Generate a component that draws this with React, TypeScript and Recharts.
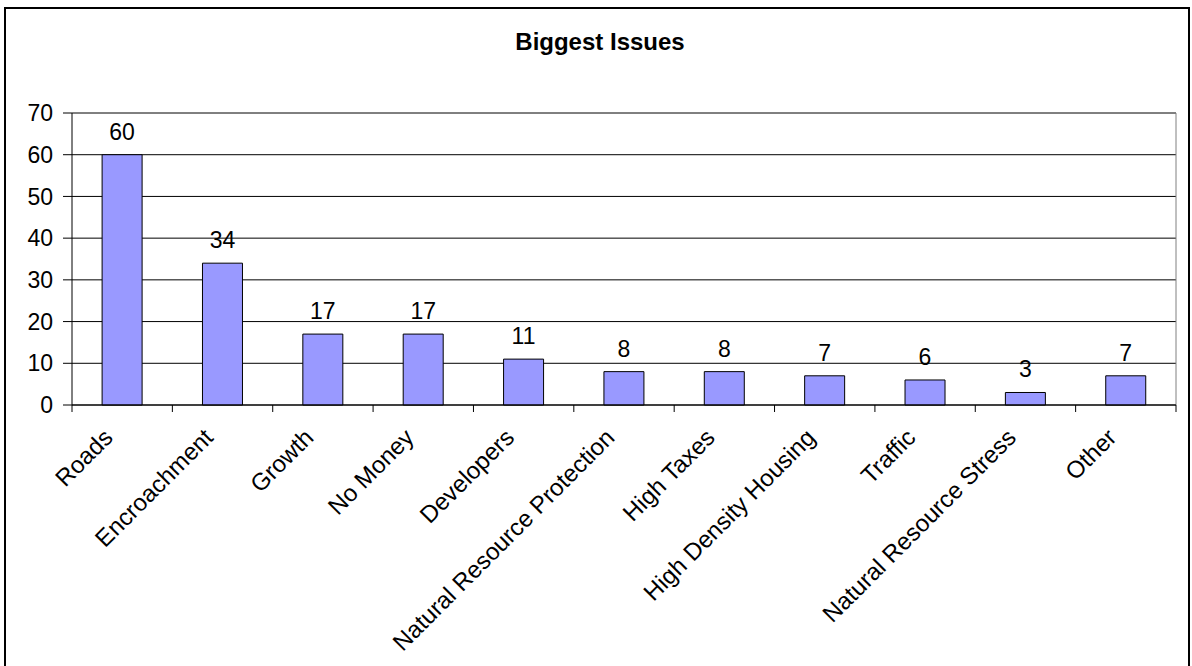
import { BarChart, Bar, XAxis, YAxis, CartesianGrid, LabelList, ReferenceLine } from "recharts";

const ISSUES = [
  "Roads",
  "Encroachment",
  "Growth",
  "No Money",
  "Developers",
  "Natural Resource Protection",
  "High Taxes",
  "High Density Housing",
  "Traffic",
  "Natural Resource Stress",
  "Other",
];

const COUNTS = [60, 34, 17, 17, 11, 8, 8, 7, 6, 3, 7];

const Y_TICKS = [0, 10, 20, 30, 40, 50, 60, 70];

const data = ISSUES.map((name, i) => ({ name, value: COUNTS[i] }));

const FONT = "Arial, 'Liberation Sans', sans-serif";

// rotated label plus Excel-style tick marks on the category boundaries
function IssueTick({ x, y, payload, index }: any) {
  const half = payload.offset || 0;
  const last = index === ISSUES.length - 1;
  return (
    <g>
      <line x1={x - half} x2={x - half} y1={y} y2={y + 7} stroke="#000" />
      {last && <line x1={x + half} x2={x + half} y1={y} y2={y + 7} stroke="#000" />}
      <g transform={`translate(${x - 8},${y + 34})`}>
        <text
          x={0}
          y={0}
          textAnchor="end"
          transform="rotate(-45)"
          fontSize={24}
          fontFamily={FONT}
          fill="#000"
        >
          {payload.value}
        </text>
      </g>
    </g>
  );
}

export default function App() {
  return (
    <div
      style={{
        position: "absolute",
        left: 4,
        top: 7,
        width: 1182,
        height: 700,
        border: "2px solid #000",
        background: "#fff",
      }}
    >
      <div
        style={{
          position: "absolute",
          left: 4,
          top: 21,
          width: 1180,
          textAlign: "center",
          fontFamily: FONT,
          fontWeight: "bold",
          fontSize: 24,
          lineHeight: "24px",
        }}
      >
        Biggest Issues
      </div>
      <BarChart
        width={1180}
        height={650}
        data={data}
        margin={{ top: 104, right: 10, bottom: 10, left: 6 }}
        barCategoryGap="30%"
      >
        <CartesianGrid vertical={false} stroke="#000" strokeWidth={1} />
        <XAxis
          dataKey="name"
          interval={0}
          tickLine={false}
          tickSize={0}
          tickMargin={0}
          axisLine={{ stroke: "#000" }}
          tick={<IssueTick />}
          height={244}
        />
        <YAxis
          domain={[0, 70]}
          ticks={Y_TICKS}
          interval={0}
          width={60}
          tickSize={9}
          tickMargin={10}
          tickLine={{ stroke: "#000" }}
          axisLine={{ stroke: "#000" }}
          tick={{ fill: "#000", fontSize: 23, fontFamily: FONT }}
        />
        <ReferenceLine y={70} stroke="#808080" strokeWidth={1} />
        <ReferenceLine x="Other" position="end" stroke="#808080" strokeWidth={1} />
        <Bar dataKey="value" fill="#9999FF" stroke="#000" strokeWidth={1} isAnimationActive={false}>
          <LabelList
            dataKey="value"
            position="top"
            offset={15}
            fill="#000"
            fontSize={23}
            fontFamily={FONT}
          />
        </Bar>
      </BarChart>
    </div>
  );
}
